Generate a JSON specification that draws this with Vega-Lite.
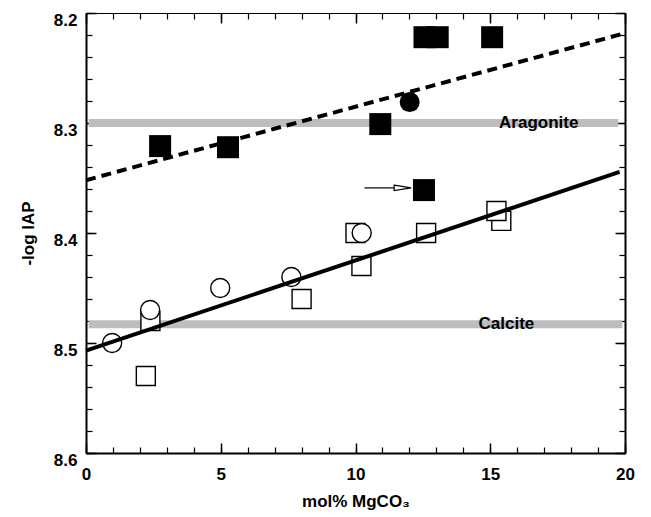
{
  "$schema": "https://vega.github.io/schema/vega-lite/v6.json",
  "width": 539,
  "height": 440,
  "autosize": {"type": "none"},
  "padding": {"left": 86, "top": 13, "right": 26, "bottom": 64},
  "background": "white",
  "config": {
    "view": {"stroke": null},
    "axis": {
      "grid": false,
      "labelFont": "Liberation Sans",
      "labelFontWeight": "bold",
      "labelFontSize": 17,
      "labelColor": "black",
      "labelFlush": false,
      "labelOverlap": false,
      "titleFont": "Liberation Sans",
      "titleFontWeight": "bold",
      "titleFontSize": 17,
      "titleColor": "black",
      "tickColor": "black",
      "domainColor": "black"
    }
  },
  "datasets": {
    "bands": [
      {"name": "Aragonite", "y": 8.3, "x0": 0.1, "x1": 19.75},
      {"name": "Calcite", "y": 8.483, "x0": 0.1, "x1": 19.9}
    ],
    "labels": [
      {"label": "Aragonite", "x": 16.8, "y": 8.3},
      {"label": "Calcite", "x": 15.6, "y": 8.483}
    ],
    "open_sq": [
      {"x": 2.22, "y": 8.53},
      {"x": 2.39, "y": 8.48},
      {"x": 8.0, "y": 8.46},
      {"x": 10.0, "y": 8.4},
      {"x": 10.22, "y": 8.43},
      {"x": 12.62, "y": 8.4},
      {"x": 15.41, "y": 8.389},
      {"x": 15.23, "y": 8.38}
    ],
    "open_ci": [
      {"x": 0.97, "y": 8.5},
      {"x": 2.38, "y": 8.47},
      {"x": 4.98, "y": 8.45},
      {"x": 7.62, "y": 8.44},
      {"x": 10.23, "y": 8.4}
    ],
    "filled_sq": [
      {"x": 2.75, "y": 8.321},
      {"x": 5.27, "y": 8.322},
      {"x": 10.92, "y": 8.301},
      {"x": 12.56, "y": 8.222},
      {"x": 13.05, "y": 8.222},
      {"x": 15.07, "y": 8.222},
      {"x": 12.54, "y": 8.361}
    ],
    "filled_ci": [
      {"x": 12.01, "y": 8.281}
    ],
    "fit_solid": [
      {"x": 0, "y": 8.507},
      {"x": 19.8, "y": 8.3445}
    ],
    "fit_dashed": [
      {"x": 0, "y": 8.352},
      {"x": 19.9, "y": 8.219}
    ],
    "arrow": [
      {"x": 10.33, "x2": 11.45, "hx": 11.75, "y": 8.359}
    ]
  },
  "resolve": {"axis": {"x": "independent", "y": "independent"}},
  "layer": [
    {
      "data": {"name": "bands"},
      "mark": {"type": "rule", "color": "#bdbdbd", "strokeWidth": 8},
      "encoding": {
        "x": {
          "field": "x0", "type": "quantitative",
          "scale": {"domain": [0, 20], "nice": false, "zero": false},
          "axis": {
            "orient": "bottom", "values": [0, 5, 10, 15, 20], "ticks": false, "tickSize": 0,
            "domainWidth": 2, "labelPadding": 13, "labelBaseline": "top", "format": "d",
            "title": "mol% MgCO₃", "titlePadding": 11
          }
        },
        "x2": {"field": "x1"},
        "y": {
          "field": "y", "type": "quantitative",
          "scale": {"domain": [8.2, 8.6], "reverse": true, "nice": false, "zero": false},
          "axis": {
            "orient": "left", "values": [8.2, 8.3, 8.4, 8.5, 8.6], "ticks": false, "tickSize": 0,
            "domainWidth": 2, "labelPadding": 9, "labelBaseline": "middle", "labelOffset": 7,
            "format": ".1f", "title": "-log IAP", "titlePadding": 16
          }
        }
      }
    },
    {
      "data": {"name": "labels"},
      "mark": {"type": "text", "font": "Liberation Sans", "fontWeight": "bold", "fontSize": 17, "align": "center", "baseline": "middle", "color": "black"},
      "encoding": {
        "x": {
          "field": "x", "type": "quantitative",
          "scale": {"domain": [0, 20], "nice": false, "zero": false},
          "axis": {
            "orient": "bottom", "values": [0, 5, 10, 15, 20], "offset": -10,
            "tickSize": 10, "tickWidth": 1.5, "labels": false, "domain": false, "title": null
          }
        },
        "y": {
          "field": "y", "type": "quantitative",
          "scale": {"domain": [8.2, 8.6], "reverse": true, "nice": false, "zero": false},
          "axis": {
            "orient": "left", "values": [8.2, 8.3, 8.4, 8.5, 8.6], "offset": -10,
            "tickSize": 10, "tickWidth": 1.5, "labels": false, "domain": false, "title": null
          }
        },
        "text": {"field": "label"}
      }
    },
    {
      "data": {"name": "open_sq"},
      "mark": {"type": "point", "shape": "square", "filled": true, "fill": "white", "stroke": "black", "strokeWidth": 1.4, "size": 361, "opacity": 1},
      "encoding": {
        "x": {
          "field": "x", "type": "quantitative",
          "scale": {"domain": [0, 20], "nice": false, "zero": false},
          "axis": {
            "orient": "bottom", "values": [0,1,2,3,4,5,6,7,8,9,10,11,12,13,14,15,16,17,18,19,20], "offset": -6,
            "tickSize": 6, "tickWidth": 1.2, "labels": false, "domain": false, "title": null
          }
        },
        "y": {
          "field": "y", "type": "quantitative",
          "scale": {"domain": [8.2, 8.6], "reverse": true, "nice": false, "zero": false},
          "axis": {
            "orient": "left", "values": [8.2,8.22,8.24,8.26,8.28,8.3,8.32,8.34,8.36,8.38,8.4,8.42,8.44,8.46,8.48,8.5,8.52,8.54,8.56,8.58,8.6], "offset": -6,
            "tickSize": 6, "tickWidth": 1.2, "labels": false, "domain": false, "title": null
          }
        }
      }
    },
    {
      "data": {"name": "open_ci"},
      "mark": {"type": "point", "shape": "circle", "filled": true, "fill": "white", "stroke": "black", "strokeWidth": 1.4, "size": 361, "opacity": 1},
      "encoding": {
        "x": {
          "field": "x", "type": "quantitative",
          "scale": {"domain": [0, 20], "nice": false, "zero": false},
          "axis": {
            "orient": "top", "values": [0, 5, 10, 15, 20], "offset": -10,
            "tickSize": 10, "tickWidth": 1.5, "labels": false, "domain": false, "title": null
          }
        },
        "y": {
          "field": "y", "type": "quantitative",
          "scale": {"domain": [8.2, 8.6], "reverse": true, "nice": false, "zero": false},
          "axis": {
            "orient": "right", "values": [8.2, 8.3, 8.4, 8.5, 8.6], "offset": -10,
            "tickSize": 10, "tickWidth": 1.5, "labels": false, "domain": false, "title": null
          }
        }
      }
    },
    {
      "data": {"name": "filled_sq"},
      "mark": {"type": "point", "shape": "square", "filled": true, "color": "black", "size": 484, "opacity": 1},
      "encoding": {
        "x": {
          "field": "x", "type": "quantitative",
          "scale": {"domain": [0, 20], "nice": false, "zero": false},
          "axis": {
            "orient": "top", "values": [0,1,2,3,4,5,6,7,8,9,10,11,12,13,14,15,16,17,18,19,20], "offset": -6,
            "tickSize": 6, "tickWidth": 1.2, "labels": false, "domain": false, "title": null
          }
        },
        "y": {
          "field": "y", "type": "quantitative",
          "scale": {"domain": [8.2, 8.6], "reverse": true, "nice": false, "zero": false},
          "axis": {
            "orient": "right", "values": [8.2,8.22,8.24,8.26,8.28,8.3,8.32,8.34,8.36,8.38,8.4,8.42,8.44,8.46,8.48,8.5,8.52,8.54,8.56,8.58,8.6], "offset": -6,
            "tickSize": 6, "tickWidth": 1.2, "labels": false, "domain": false, "title": null
          }
        }
      }
    },
    {
      "data": {"name": "filled_ci"},
      "mark": {"type": "point", "shape": "circle", "filled": true, "color": "black", "size": 400, "opacity": 1},
      "encoding": {
        "x": {
          "field": "x", "type": "quantitative",
          "scale": {"domain": [0, 20], "nice": false, "zero": false},
          "axis": {
            "orient": "top", "ticks": false, "tickSize": 0, "labels": false, "domain": true, "domainWidth": 1.2, "title": null
          }
        },
        "y": {
          "field": "y", "type": "quantitative",
          "scale": {"domain": [8.2, 8.6], "reverse": true, "nice": false, "zero": false},
          "axis": {
            "orient": "right", "ticks": false, "tickSize": 0, "labels": false, "domain": true, "domainWidth": 2, "title": null
          }
        }
      }
    },
    {
      "data": {"name": "fit_solid"},
      "mark": {"type": "line", "color": "black", "strokeWidth": 4, "strokeCap": "butt"},
      "encoding": {
        "x": {"field": "x", "type": "quantitative", "scale": {"domain": [0, 20], "nice": false, "zero": false}, "axis": null},
        "y": {"field": "y", "type": "quantitative", "scale": {"domain": [8.2, 8.6], "reverse": true, "nice": false, "zero": false}, "axis": null}
      }
    },
    {
      "data": {"name": "fit_dashed"},
      "mark": {"type": "line", "color": "black", "strokeWidth": 4, "strokeDash": [10, 6], "strokeCap": "butt"},
      "encoding": {
        "x": {"field": "x", "type": "quantitative", "scale": {"domain": [0, 20], "nice": false, "zero": false}, "axis": null},
        "y": {"field": "y", "type": "quantitative", "scale": {"domain": [8.2, 8.6], "reverse": true, "nice": false, "zero": false}, "axis": null}
      }
    },
    {
      "data": {"name": "arrow"},
      "mark": {"type": "rule", "color": "black", "strokeWidth": 1.2},
      "encoding": {
        "x": {"field": "x", "type": "quantitative", "scale": {"domain": [0, 20], "nice": false, "zero": false}, "axis": null},
        "x2": {"field": "x2"},
        "y": {"field": "y", "type": "quantitative", "scale": {"domain": [8.2, 8.6], "reverse": true, "nice": false, "zero": false}, "axis": null}
      }
    },
    {
      "data": {"name": "arrow"},
      "mark": {"type": "point", "shape": "M-1,-0.32L1,0L-1,0.32Z", "filled": true, "fill": "white", "stroke": "black", "strokeWidth": 1.2, "size": 289, "opacity": 1},
      "encoding": {
        "x": {"field": "hx", "type": "quantitative", "scale": {"domain": [0, 20], "nice": false, "zero": false}, "axis": null},
        "y": {"field": "y", "type": "quantitative", "scale": {"domain": [8.2, 8.6], "reverse": true, "nice": false, "zero": false}, "axis": null}
      }
    }
  ]
}
